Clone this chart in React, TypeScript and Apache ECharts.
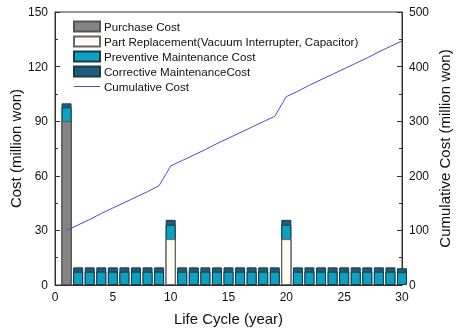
import React, { useEffect, useRef } from "react";
import * as echarts from "echarts";

const years = [1,2,3,4,5,6,7,8,9,10,11,12,13,14,15,16,17,18,19,20,21,22,23,24,25,26,27,28,29,30];
const purchase = [90,0,0,0,0,0,0,0,0,0,0,0,0,0,0,0,0,0,0,0,0,0,0,0,0,0,0,0,0,0];
const partReplacement = [0,0,0,0,0,0,0,0,0,25.2,0,0,0,0,0,0,0,0,0,25.2,0,0,0,0,0,0,0,0,0,0];
const preventive = [7.6,7.3,7.3,7.3,7.3,7.3,7.3,7.3,7.3,7.9,7.3,7.3,7.3,7.3,7.3,7.3,7.3,7.3,7.3,7.9,7.3,7.3,7.3,7.3,7.3,7.3,7.3,7.3,7.3,7.0];
const corrective = [2.2,2.4,2.4,2.4,2.4,2.4,2.4,2.4,2.4,2.7,2.4,2.4,2.4,2.4,2.4,2.4,2.4,2.4,2.4,2.7,2.4,2.4,2.4,2.4,2.4,2.4,2.4,2.4,2.4,2.2];
const cumulative = [100,110,120,131,141,151,161,171,182,218,228,238,248,259,269,279,289,299,309,345,355,366,376,386,396,406,416,427,437,447];

const font = "Liberation Sans, Arial, sans-serif";
const names = [
  "Purchase Cost",
  "Part Replacement(Vacuum Interrupter, Capacitor)",
  "Preventive Maintenance Cost",
  "Corrective MaintenanceCost",
  "Cumulative Cost",
];
const lineColor = "#4a4ad6";

export default function App() {
  const ref = useRef<HTMLDivElement>(null);
  useEffect(() => {
    if (!ref.current) return;
    const chart = echarts.init(ref.current, null, { renderer: "svg" });
    // Stack tops built from the component arrays; drawn tallest first and overlapped.
    const segs = [purchase, partReplacement, preventive, corrective];
    const tops = segs.map((_, k) =>
      years.map((y, i) => {
        let s = 0;
        for (let j = 0; j <= k; j++) s += segs[j][i];
        return segs[k][i] > 0 ? [y, s] : [y, "-"];
      })
    );
    const styles = [
      { color: "#858585", borderColor: "#555", borderWidth: 1 },
      { color: "#fdfbf2", borderColor: "#666", borderWidth: 1 },
      { color: "#0ca1c1", borderColor: "#1a3a4a", borderWidth: 1 },
      { color: "#1e5c7b", borderColor: "#1a3a4a", borderWidth: 1 },
    ];
    const barSeries = [3, 2, 1, 0].map((k) => ({
      type: "bar",
      name: names[k],
      barWidth: 10,
      barGap: "-100%",
      xAxisIndex: 0,
      yAxisIndex: 0,
      data: tops[k],
      itemStyle: styles[k],
      z: 2 + (3 - k) * 0.01,
    }));
    chart.setOption({
      animation: false,
      textStyle: { fontFamily: font, color: "#111" },
      grid: { left: 55, right: 56, top: 12, bottom: 47, show: true, borderColor: "#333", borderWidth: 1, outerBoundsMode: "none", containLabel: false },
      legend: {
        orient: "vertical",
        left: 73,
        top: 20,
        padding: 0,
        itemWidth: 26,
        itemHeight: 10,
        itemGap: 2,
        icon: "rect",
        textStyle: { fontFamily: font, fontSize: 11.6, lineHeight: 13, color: "#111", padding: [0, 0, 0, -1] },
        data: [
          { name: names[0] },
          { name: names[1] },
          { name: names[2] },
          { name: names[3] },
          { name: names[4], icon: "path://M0,0L26,0L26,1L0,1Z", itemStyle: { color: lineColor } },
        ],
      },
      xAxis: {
        type: "value",
        min: 0,
        max: 30,
        interval: 5,
        name: "Life Cycle (year)",
        nameLocation: "middle",
        nameGap: 26,
        nameMoveOverlap: false,
        nameTextStyle: { fontFamily: font, fontSize: 15, color: "#111", verticalAlign: "top" },
        axisLine: { show: true, lineStyle: { color: "#333" } },
        axisTick: { show: true, inside: true, length: 5, lineStyle: { color: "#333" } },
        minorTick: { show: true, splitNumber: 5, length: 3, lineStyle: { color: "#333" } },
        axisLabel: { fontFamily: font, fontSize: 12, color: "#111", margin: 6 },
        splitLine: { show: false },
      },
      yAxis: [
        {
          type: "value",
          min: 0,
          max: 150,
          interval: 30,
          name: "Cost (million won)",
          nameLocation: "middle",
          nameGap: 32,
          nameMoveOverlap: false,
          nameTextStyle: { fontFamily: font, fontSize: 15, color: "#111" },
          axisLine: { show: true, lineStyle: { color: "#333" } },
          axisTick: { show: true, inside: true, length: 5, lineStyle: { color: "#333" } },
          minorTick: { show: true, splitNumber: 2, length: 3, lineStyle: { color: "#333" } },
          axisLabel: { fontFamily: font, fontSize: 12, color: "#111", margin: 7 },
          splitLine: { show: false },
        },
        {
          type: "value",
          min: 0,
          max: 500,
          interval: 100,
          position: "right",
          name: "Cumulative Cost (million won)",
          nameLocation: "middle",
          nameGap: 35,
          nameMoveOverlap: false,
          nameTextStyle: { fontFamily: font, fontSize: 15, color: "#111" },
          axisLine: { show: true, lineStyle: { color: "#333" } },
          axisTick: { show: true, inside: true, length: 5, lineStyle: { color: "#333" } },
          minorTick: { show: true, splitNumber: 2, length: 3, lineStyle: { color: "#333" } },
          axisLabel: { fontFamily: font, fontSize: 12, color: "#111", margin: 7 },
          splitLine: { show: false },
        },
      ],
      series: [
        ...barSeries,
        {
          type: "line",
          name: names[4],
          xAxisIndex: 0,
          yAxisIndex: 1,
          symbol: "none",
          data: years.map((y, i) => [y, cumulative[i]]),
          lineStyle: { color: lineColor, width: 1 },
          itemStyle: { color: lineColor },
          z: 5,
        },
      ],
    });
    return () => chart.dispose();
  }, []);
  return <div ref={ref} style={{ position: "fixed", left: 0, top: 0, width: 458, height: 332 }} />;
}
